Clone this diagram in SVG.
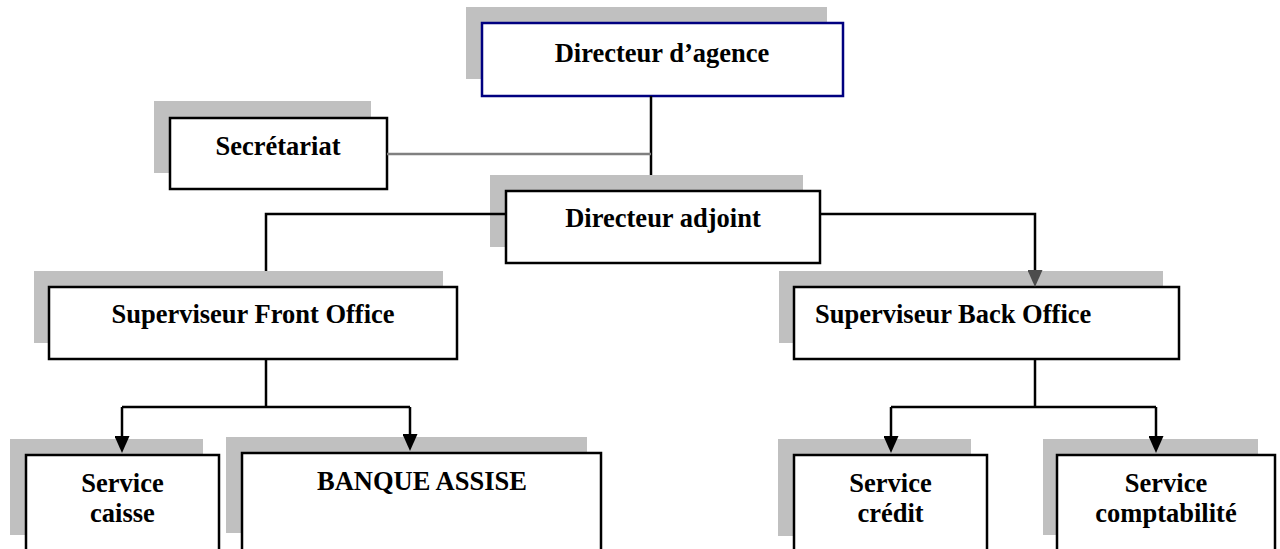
<svg xmlns="http://www.w3.org/2000/svg" width="1280" height="549" viewBox="0 0 1280 549">
<style>
.sh{fill:#c0c0c0;stroke:none}
.bx{fill:#fff;stroke:#000;stroke-width:2.5}
.nv{fill:#fff;stroke:#000080;stroke-width:2.5}
.t{font-family:"Liberation Serif","Times New Roman",serif;font-weight:bold;font-size:26.5px;fill:#000;text-anchor:middle}
.ln{fill:none;stroke:#000;stroke-width:2.5}
.gl{fill:none;stroke:#808080;stroke-width:2.5}
</style>
<defs>
<marker id="ah" markerUnits="userSpaceOnUse" markerWidth="17" markerHeight="15" viewBox="0 0 17 15" refX="2" refY="7.5" orient="auto"><path d="M0,0 L17,7.5 L0,15 z" fill="#000"/></marker>
<marker id="ahg" markerUnits="userSpaceOnUse" markerWidth="17" markerHeight="15" viewBox="0 0 17 15" refX="2" refY="7.5" orient="auto"><path d="M0,0 L17,7.5 L0,15 z" fill="#4d4d4d"/></marker>
</defs>
<g id="n-directeur-agence"><rect class="sh" x="466" y="7" width="361" height="72"/><rect class="nv" x="482" y="23" width="361" height="73"/><text class="t" x="662" y="62">Directeur d’agence</text></g>
<g id="n-secretariat"><rect class="sh" x="154" y="101" width="217" height="72"/><rect class="bx" x="170" y="118" width="217" height="71"/><text class="t" x="278" y="155">Secrétariat</text></g>
<g id="n-directeur-adjoint"><rect class="sh" x="490" y="175" width="313" height="72"/><rect class="bx" x="506" y="191" width="314" height="72"/><text class="t" x="663" y="227">Directeur adjoint</text></g>
<g id="n-front"><rect class="sh" x="34" y="271" width="409" height="72"/><rect class="bx" x="49" y="287" width="408" height="72"/><text class="t" x="253" y="323">Superviseur Front Office</text></g>
<g id="n-back"><rect class="sh" x="779" y="271" width="384" height="72"/><rect class="bx" x="794" y="287" width="385" height="72"/><text class="t" x="815" y="323" style="text-anchor:start">Superviseur Back Office</text></g>
<g id="n-caisse"><rect class="sh" x="10" y="439" width="193" height="96"/><rect class="bx" x="26" y="455" width="193" height="110"/><text class="t" x="122.5" y="492">Service</text><text class="t" x="122.5" y="522">caisse</text></g>
<g id="n-banque"><rect class="sh" x="226" y="437" width="361" height="96"/><rect class="bx" x="242" y="453" width="359" height="110"/><text class="t" x="422" y="490">BANQUE ASSISE</text></g>
<g id="n-credit"><rect class="sh" x="778" y="439" width="193" height="97"/><rect class="bx" x="794" y="455" width="193" height="110"/><text class="t" x="890.5" y="492">Service</text><text class="t" x="890.5" y="522">crédit</text></g>
<g id="n-compta"><rect class="sh" x="1043" y="439" width="215" height="96"/><rect class="bx" x="1057" y="455" width="218" height="110"/><text class="t" x="1166" y="492">Service</text><text class="t" x="1166" y="522">comptabilité</text></g>
<g id="connectors">
<path class="ln" d="M651,96 V175"/>
<path class="gl" d="M387,154 H651"/>
<path class="ln" d="M506,214 H266 V271"/>
<path class="ln" d="M820,214 H1035 V272" marker-end="url(#ahg)"/>
<path class="ln" d="M266,359 V407"/>
<path class="ln" d="M122,407 H410"/>
<path class="ln" d="M122,407 V438" marker-end="url(#ah)"/>
<path class="ln" d="M410,407 V436" marker-end="url(#ah)"/>
<path class="ln" d="M1035,359 V407"/>
<path class="ln" d="M891,407 H1156"/>
<path class="ln" d="M891,407 V438" marker-end="url(#ah)"/>
<path class="ln" d="M1156,407 V438" marker-end="url(#ah)"/>
</g>
</svg>
